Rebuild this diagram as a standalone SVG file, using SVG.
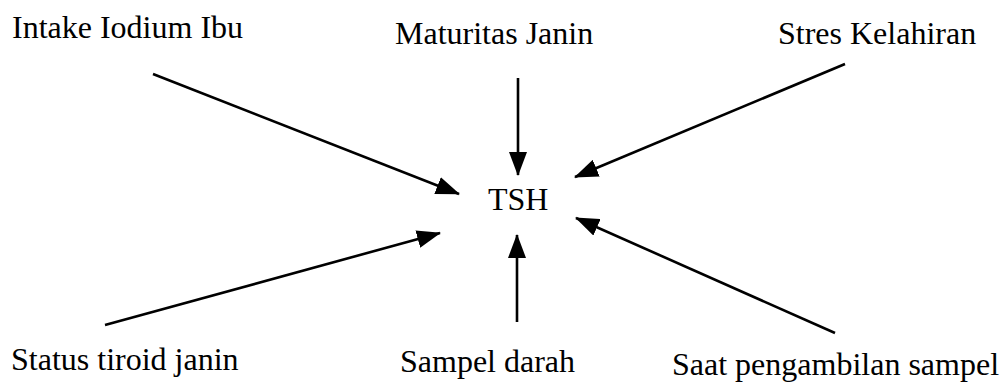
<svg xmlns="http://www.w3.org/2000/svg" width="1007" height="383" viewBox="0 0 1007 383">
<style>
text{font-family:"Liberation Serif","Times New Roman",serif;font-size:32px;fill:#000}
.c line{stroke:#000;stroke-width:2.6;marker-end:url(#ah)}
</style>
<defs>
<marker id="ah" markerUnits="userSpaceOnUse" viewBox="0 0 24 18" refX="23" refY="9" markerWidth="24" markerHeight="18" orient="auto">
<path d="M0,0 L24,9 L0,18 Z" fill="#000"/>
</marker>
</defs>
<rect width="1007" height="383" fill="#fff"/>
<g id="connectors" class="c">
<line x1="153" y1="74" x2="459" y2="194"/>
<line x1="105" y1="325" x2="440" y2="233"/>
<line x1="518" y1="78" x2="518" y2="175"/>
<line x1="517" y1="322" x2="517" y2="235"/>
<line x1="845" y1="64" x2="575" y2="177"/>
<line x1="835" y1="333" x2="576" y2="218"/>
</g>
<g id="n-intake"><text x="12" y="38">Intake Iodium Ibu</text></g>
<g id="n-maturitas"><text x="395" y="44">Maturitas Janin</text></g>
<g id="n-stres"><text x="778" y="44">Stres Kelahiran</text></g>
<g id="n-tsh"><text x="488" y="210">TSH</text></g>
<g id="n-status"><text x="11" y="370">Status tiroid janin</text></g>
<g id="n-sampel"><text x="400" y="372">Sampel darah</text></g>
<g id="n-saat"><text x="672" y="375">Saat pengambilan sampel</text></g>
</svg>
